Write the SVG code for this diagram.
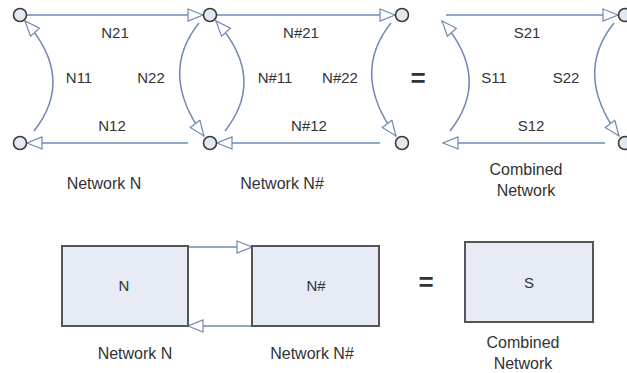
<svg xmlns="http://www.w3.org/2000/svg" width="627" height="373" viewBox="0 0 627 373">
<defs>
<style>
.t{font-family:"Liberation Sans",Arial,sans-serif;font-size:15px;fill:#333;text-anchor:middle}
.cap{font-family:"Liberation Sans",Arial,sans-serif;font-size:16px;fill:#333;text-anchor:middle}
.eq{font-family:"Liberation Sans",Arial,sans-serif;font-size:26px;font-weight:bold;fill:#333;text-anchor:middle}
.c{fill:none;stroke:#7189b3;stroke-width:1.5;marker-end:url(#ah)}
.nd{fill:#e4e8f0;stroke:#3a3a3a;stroke-width:1.6}
.bx{fill:#e6ebf6;stroke:#555;stroke-width:2}
</style>
<marker id="ah" markerUnits="userSpaceOnUse" markerWidth="17" markerHeight="14" refX="15" refY="6" orient="auto" viewBox="-1 -1 17 14">
<path d="M0,0 L15,6 L0,12 Z" fill="#fff" stroke="#7189b3" stroke-width="1.2"/>
</marker>
</defs>
<rect width="627" height="373" fill="#fff"/>
<g id="connectors">
<path class="c" d="M27,15 L203,15"/>
<path class="c" d="M188,143 L27,143"/>
<path class="c" d="M34,131 Q76,78 25,21"/>
<path class="c" d="M199,23 Q158,74 204,136"/>
<path class="c" d="M217,15 L395,15"/>
<path class="c" d="M380,143 L217,143"/>
<path class="c" d="M225,131 Q267,78 216,21"/>
<path class="c" d="M391,23 Q350,74 396,136"/>
<path class="c" d="M446,15 L618,15"/>
<path class="c" d="M605,143 L443,143"/>
<path class="c" d="M450,131 Q492,78 442,21"/>
<path class="c" d="M614,23 Q573,74 619,136"/>
<path class="c" d="M188,247 L252,247"/>
<path class="c" d="M252,326 L188,326"/>
</g>
<g id="node-n1"><circle class="nd" cx="20" cy="15" r="6.5"/></g>
<g id="node-n2"><circle class="nd" cx="210" cy="15" r="6.5"/></g>
<g id="node-n3"><circle class="nd" cx="20" cy="143" r="6.5"/></g>
<g id="node-n4"><circle class="nd" cx="210" cy="143" r="6.5"/></g>
<g id="node-n5"><circle class="nd" cx="402" cy="15" r="6.5"/></g>
<g id="node-n6"><circle class="nd" cx="402" cy="143" r="6.5"/></g>
<g id="node-s1"><circle class="nd" cx="625" cy="15" r="6.5"/></g>
<g id="node-s2"><circle class="nd" cx="625" cy="143" r="6.5"/></g>
<g id="labels">
<text class="t" x="115" y="38">N21</text>
<text class="t" x="79" y="83">N11</text>
<text class="t" x="151" y="83">N22</text>
<text class="t" x="112" y="131">N12</text>
<text class="t" x="301" y="38">N#21</text>
<text class="t" x="275" y="83">N#11</text>
<text class="t" x="340" y="83">N#22</text>
<text class="t" x="309" y="131">N#12</text>
<text class="eq" x="418" y="87">=</text>
<text class="t" x="527" y="38">S21</text>
<text class="t" x="494" y="83">S11</text>
<text class="t" x="566" y="83">S22</text>
<text class="t" x="531" y="131">S12</text>
<text class="cap" x="104" y="189">Network N</text>
<text class="cap" x="282" y="189">Network N#</text>
<text class="cap" x="526" y="175">Combined</text>
<text class="cap" x="526" y="196">Network</text>
</g>
<g id="box-n"><rect class="bx" x="62" y="246" width="126" height="80"/><text class="t" x="124" y="291">N</text></g>
<g id="box-nh"><rect class="bx" x="252" y="246" width="127" height="80"/><text class="t" x="316" y="291">N#</text></g>
<text class="eq" x="426" y="291">=</text>
<g id="box-s"><rect class="bx" x="465" y="242" width="128" height="80"/><text class="t" x="529" y="288">S</text></g>
<text class="cap" x="135" y="359">Network N</text>
<text class="cap" x="312" y="359">Network N#</text>
<text class="cap" x="523" y="348">Combined</text>
<text class="cap" x="523" y="369">Network</text>
</svg>
